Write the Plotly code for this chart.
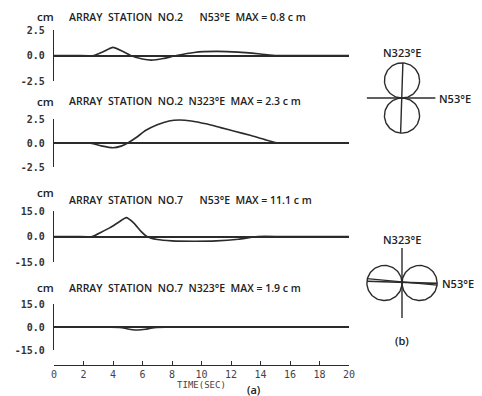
import plotly.graph_objects as go
import numpy as np

# page body has an 8px margin, so the figure is drawn 8px smaller and offset
OFF = 8
W, H = 482 - OFF, 396 - OFF

# ---------------- data ----------------
stations = ["NO.2", "NO.2", "NO.7", "NO.7"]
components = ["N53°E", "N323°E", "N53°E", "N323°E"]
max_cm = ["0.8", "2.3", "11.1", "1.9"]
y_limits = [2.5, 2.5, 15.0, 15.0]

t1 = [0, 1.5, 2.7, 3.3, 4.0, 4.6, 5.2, 6.0, 6.6, 7.4, 8.3, 9.5, 11.0, 12.5, 14.0, 15.1, 16.5, 20]
v1 = [0, 0, 0, 0.35, 0.8, 0.45, 0, -0.35, -0.45, -0.3, 0, 0.3, 0.4, 0.33, 0.15, 0, 0, 0]

t2 = [0, 1.2, 2.4, 3.2, 4.0, 4.6, 5.0, 5.6, 6.2, 7.0, 7.8, 8.5, 9.3, 10.3, 11.3, 12.3, 13.3, 14.3, 15.2, 16.5, 20]
v2 = [0, 0, 0, -0.3, -0.5, -0.3, 0, 0.6, 1.3, 1.9, 2.3, 2.4, 2.3, 2.0, 1.6, 1.2, 0.8, 0.35, 0, 0, 0]

t3 = [0, 1.5, 2.6, 3.2, 3.8, 4.4, 4.9, 5.4, 5.9, 6.3, 7.0, 8.0, 9.5, 11.0, 12.5, 13.8, 15.5, 20]
v3 = [0, 0, 0, 2.5, 5.2, 8.5, 11.1, 8.0, 3.0, 0, -1.8, -2.6, -2.8, -2.6, -1.6, 0, 0, 0]

t4 = [0, 2.0, 3.5, 4.6, 5.2, 5.7, 6.2, 6.8, 8.0, 10.0, 20]
v4 = [0, 0, 0, -0.5, -1.6, -2.0, -1.5, -0.4, 0, 0, 0]

times = [t1, t2, t3, t4]
values = [v1, v2, v3, v4]

time_ticks = list(range(0, 21, 2))

# (b) particle-motion diagrams: lobe centres (unit radius) and drawn lines
top_lobes = [(0, 1), (0, -1)]
top_lines = [((0.05, 2.0), (-0.08, -2.0)), ((-2.0, 0.0), (1.9, 0.0))]
bot_lobes = [(1, 0), (-1, 0)]
bot_lines = [((0.0, 2.0), (0.0, -2.0)), ((-2.0, 0.25), (2.0, -0.12)), ((-2.0, 0.1), (2.0, -0.02))]

# ---------------- layout helpers ----------------
def px(x):
    return (x - OFF) / W

def py(y):
    return 1 - (y - OFF) / H

INK = "#2b2b2b"
x_dom = [px(54), px(349)]
panel_px = [(30, 81), (119, 167), (211, 262), (304, 350)]
cm_y = [16, 101, 192, 287]
title_y = [17, 101, 200, 288]

fig = go.Figure()
layout = dict(width=W, height=H, autosize=False,
              margin=dict(l=0, r=0, t=0, b=0),
              paper_bgcolor="white", plot_bgcolor="rgba(0,0,0,0)",
              showlegend=False, annotations=[])

tickfont = dict(family="DejaVu Sans Mono", size=10, color="#333", weight="bold")

for i in range(4):
    n = "" if i == 0 else str(i + 1)
    xa, ya = "x" + n, "y" + n
    fig.add_trace(go.Scatter(x=times[i], y=values[i], mode="lines", xaxis=xa, yaxis=ya,
                             line=dict(color=INK, width=1.6, shape="spline", smoothing=0.5),
                             hoverinfo="skip"))
    lim = y_limits[i]
    top, bot = panel_px[i]
    xaxis = dict(domain=x_dom, range=[0, 20], anchor=ya, showgrid=False, zeroline=False,
                 showline=False, showticklabels=False, ticks="", automargin=False, fixedrange=True)
    if i == 3:
        xaxis.update(anchor="free", position=py(365), showline=True, linecolor=INK, linewidth=1.3,
                     showticklabels=True, tickvals=time_ticks, ticks="inside", ticklen=4,
                     tickcolor=INK, tickwidth=1.2,
                     tickfont=dict(family="DejaVu Sans Mono", size=10, color="#444"),
                     title=dict(text="TIME(SEC)", standoff=2,
                                font=dict(family="DejaVu Sans Mono", size=9, color="#444")))
    yaxis = dict(domain=[py(bot), py(top)], range=[-lim, lim], anchor=xa,
                 tickvals=[lim, 0, -lim], ticktext=[f"{lim:.1f}", "0.0", f"{-lim:.1f}"],
                 ticks="inside", ticklen=4, tickcolor=INK, tickwidth=1.3,
                 showline=True, linecolor=INK, linewidth=1.3, showgrid=False,
                 zeroline=True, zerolinecolor=INK, zerolinewidth=1.5,
                 tickfont=tickfont, ticklabelstandoff=6, automargin=False, fixedrange=True)
    layout["xaxis" + n] = xaxis
    layout["yaxis" + n] = yaxis

    layout["annotations"].append(dict(text="cm", x=px(45), y=py(cm_y[i]), xref="paper", yref="paper",
                                      showarrow=False, xanchor="center", yanchor="middle",
                                      font=dict(family="Open Sans", size=11.5, color="#222", weight=600)))
    comp = components[i]
    gap = "\u00a0" * (6 if comp == "N53°E" else 2)
    title = ("ARRAY\u00a0\u00a0STATION\u00a0\u00a0" + stations[i] + gap + comp +
             "\u00a0\u00a0MAX\u00a0=\u00a0" + max_cm[i] + "\u00a0c\u00a0m")
    layout["annotations"].append(dict(text=title, x=px(67), y=py(title_y[i]), xref="paper", yref="paper",
                                      showarrow=False, xanchor="left", yanchor="middle",
                                      font=dict(family="Open Sans", size=10.5, color="#222", weight=600)))

# (a) label
layout["annotations"].append(dict(text="(a)", x=px(254), y=py(389), xref="paper", yref="paper",
                                  showarrow=False, xanchor="center", yanchor="middle",
                                  font=dict(family="Open Sans", size=11, color="#222", weight=600)))

# ---------------- (b) diagrams ----------------
theta = np.linspace(0, 2 * np.pi, 121)
diag_specs = [("5", 98, top_lobes, top_lines), ("6", 283, bot_lobes, bot_lines)]
for n, cy, lobes, lines in diag_specs:
    xa, ya = "x" + n, "y" + n
    for cx0, cy0 in lobes:
        fig.add_trace(go.Scatter(x=cx0 + np.cos(theta), y=cy0 + np.sin(theta), mode="lines",
                                 xaxis=xa, yaxis=ya, line=dict(color=INK, width=1.4), hoverinfo="skip"))
    for k, (p0, p1) in enumerate(lines):
        fig.add_trace(go.Scatter(x=[p0[0], p1[0]], y=[p0[1], p1[1]], mode="lines",
                                 xaxis=xa, yaxis=ya,
                                 line=dict(color=INK, width=1.4 if k < 2 or n == "5" else 1.6),
                                 hoverinfo="skip"))
    layout["xaxis" + n] = dict(domain=[px(366), px(438)], range=[-2.05, 2.05], anchor=ya, visible=False,
                               automargin=False, fixedrange=True)
    layout["yaxis" + n] = dict(domain=[py(cy + 36), py(cy - 36)], range=[-2.05, 2.05], anchor=xa,
                               visible=False, automargin=False, fixedrange=True)

lab_font = dict(family="Open Sans", size=11, color="#222", weight=600)
for text, x, y, anc in [("N323°E", 402, 52, "center"), ("N53°E", 437, 98, "left"),
                        ("N323°E", 402, 239, "center"), ("N53°E", 440, 283, "left"),
                        ("(b)", 402, 340, "center")]:
    layout["annotations"].append(dict(text=text, x=px(x), y=py(y), xref="paper", yref="paper",
                                      showarrow=False, xanchor=anc, yanchor="middle", font=lab_font))

fig.update_layout(**layout)
fig.write_html("out.html")
